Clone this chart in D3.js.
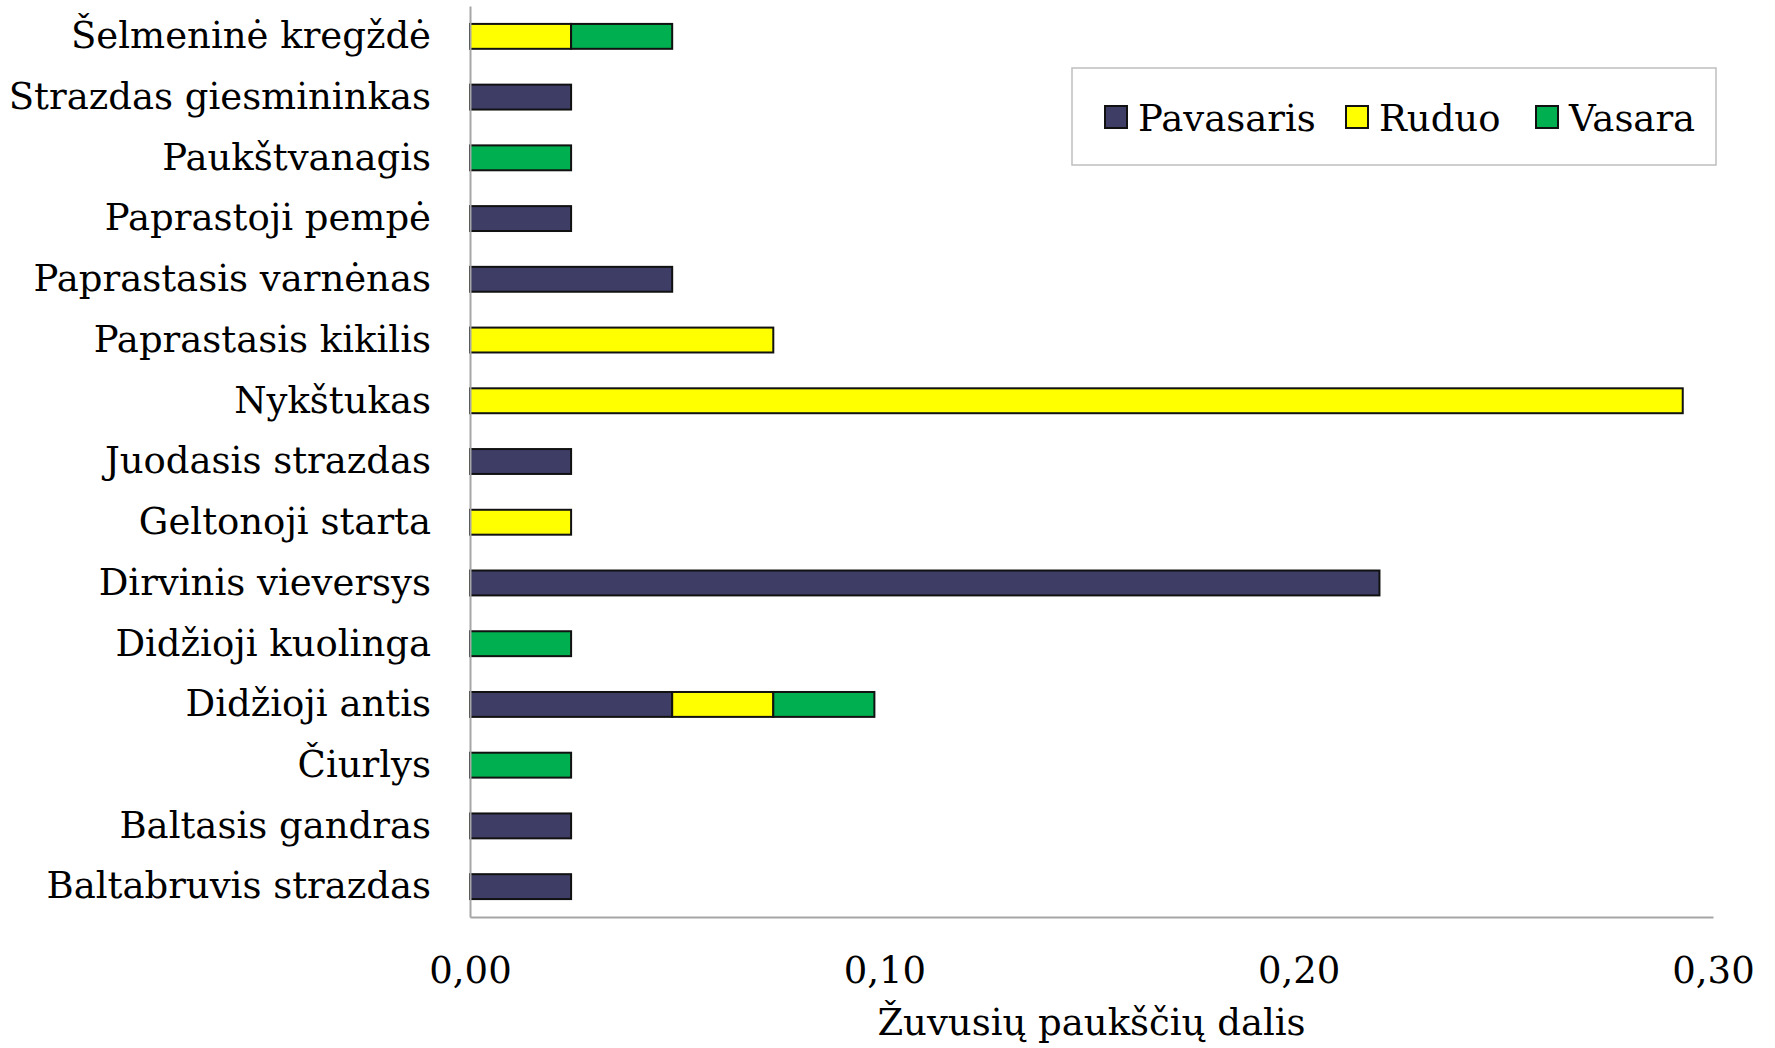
<!DOCTYPE html>
<html>
<head>
<meta charset="utf-8">
<script src="https://cdn.jsdelivr.net/npm/d3@7"></script>
<style>
  html, body { margin: 0; padding: 0; background: #fff; }
  svg { display: block; }
</style>
</head>
<body>
<svg id="chart" width="1775" height="1048"></svg>
<script>
// Species, top to bottom
const species = [
  "Šelmeninė kregždė",
  "Strazdas giesmininkas",
  "Paukštvanagis",
  "Paprastoji pempė",
  "Paprastasis varnėnas",
  "Paprastasis kikilis",
  "Nykštukas",
  "Juodasis strazdas",
  "Geltonoji starta",
  "Dirvinis vieversys",
  "Didžioji kuolinga",
  "Didžioji antis",
  "Čiurlys",
  "Baltasis gandras",
  "Baltabruvis strazdas"
];

// Share of killed birds per season (same order as species)
const pavasaris = [0, 0.0244, 0, 0.0244, 0.0488, 0, 0, 0.0244, 0, 0.2195, 0, 0.0488, 0, 0.0244, 0.0244];
const ruduo     = [0.0244, 0, 0, 0, 0, 0.0732, 0.2927, 0, 0.0244, 0, 0, 0.0244, 0, 0, 0];
const vasara    = [0.0244, 0, 0.0244, 0, 0, 0, 0, 0, 0, 0, 0.0244, 0.0244, 0.0244, 0, 0];

const seasons = ["Pavasaris", "Ruduo", "Vasara"];
const seasonColors = ["#3d3d66", "#ffff00", "#00b050"];

const xTicks = [0, 0.10, 0.20, 0.30];
const xTitle = "Žuvusių paukščių dalis";

const FONT = "'DejaVu Serif', serif";
const FS = 37;

const svg = d3.select("#chart");
const margin = { left: 470, right: 62, top: 6, bottom: 131 };
const W = 1775, H = 1048;

const x = d3.scaleLinear().domain([0, 0.30]).range([margin.left, W - margin.right]);
const y = d3.scaleBand().domain(species).range([margin.top, H - margin.bottom]).paddingInner(0.59).paddingOuter(0.295);

const rows = species.map((s, i) => ({ species: s, Pavasaris: pavasaris[i], Ruduo: ruduo[i], Vasara: vasara[i] }));
const stacked = d3.stack().keys(seasons)(rows);
const color = d3.scaleOrdinal().domain(seasons).range(seasonColors);

// Bars
svg.append("g")
  .selectAll("g")
  .data(stacked)
  .join("g")
  .attr("fill", d => color(d.key))
  .selectAll("rect")
  .data(d => d.filter(p => p[1] - p[0] > 0))
  .join("rect")
  .attr("x", p => x(p[0]))
  .attr("y", p => y(p.data.species))
  .attr("width", p => x(p[1]) - x(p[0]))
  .attr("height", y.bandwidth())
  .attr("stroke", "#111")
  .attr("stroke-width", 2);

// Category axis
const yAxis = svg.append("g")
  .attr("transform", `translate(${margin.left},0)`)
  .call(d3.axisLeft(y).tickSize(0).tickPadding(39));
yAxis.select(".domain").attr("stroke", "#a6a6a6").attr("stroke-width", 2);
yAxis.selectAll("text")
  .attr("font-family", FONT)
  .attr("font-size", FS)
  .attr("fill", "#000");

// Value axis
const xAxis = svg.append("g")
  .attr("transform", `translate(0,${H - margin.bottom})`)
  .call(d3.axisBottom(x).tickValues(xTicks).tickSize(0).tickPadding(40)
    .tickFormat(d => d3.format(".2f")(d).replace(".", ",")));
xAxis.select(".domain").attr("stroke", "#a6a6a6").attr("stroke-width", 2);
xAxis.selectAll("text")
  .attr("font-family", FONT)
  .attr("font-size", FS)
  .attr("fill", "#000");

svg.append("text")
  .attr("x", (x(0) + x(0.30)) / 2)
  .attr("y", 1035)
  .attr("text-anchor", "middle")
  .attr("font-family", FONT)
  .attr("font-size", FS)
  .attr("fill", "#000")
  .text(xTitle);

// Legend
const legend = svg.append("g");
legend.append("rect")
  .attr("x", 1072).attr("y", 68)
  .attr("width", 644).attr("height", 97)
  .attr("fill", "#fff")
  .attr("stroke", "#bfbfbf")
  .attr("stroke-width", 1.5);

const legendX = [1105, 1346, 1536];
const items = legend.selectAll("g.item")
  .data(seasons)
  .join("g")
  .attr("class", "item")
  .attr("transform", (d, i) => `translate(${legendX[i]},106)`);
items.append("rect")
  .attr("width", 22).attr("height", 22)
  .attr("fill", d => color(d))
  .attr("stroke", "#111")
  .attr("stroke-width", 2);
items.append("text")
  .attr("x", 33)
  .attr("y", 25)
  .attr("font-family", FONT)
  .attr("font-size", FS)
  .attr("fill", "#000")
  .text(d => d);
</script>
</body>
</html>
